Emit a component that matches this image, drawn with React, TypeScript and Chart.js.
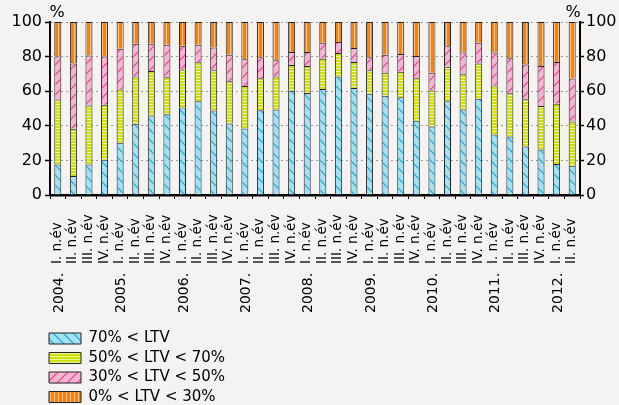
import React, { useEffect, useRef } from 'react';
import { Chart, registerables } from 'chart.js';

Chart.register(...registerables);

const FONT = 'DejaVu Sans';

const quarterLabels = [
  'I. n.év', 'II. n.év', 'III. n.év', 'IV. n.év',
  'I. n.év', 'II. n.év', 'III. n.év', 'IV. n.év',
  'I. n.év', 'II. n.év', 'III. n.év', 'IV. n.év',
  'I. n.év', 'II. n.év', 'III. n.év', 'IV. n.év',
  'I. n.év', 'II. n.év', 'III. n.év', 'IV. n.év',
  'I. n.év', 'II. n.év', 'III. n.év', 'IV. n.év',
  'I. n.év', 'II. n.év', 'III. n.év', 'IV. n.év',
  'I. n.év', 'II. n.év', 'III. n.év', 'IV. n.év',
  'I. n.év', 'II. n.év',
];

const yearLabels = [
  '2004.', '', '', '',
  '2005.', '', '', '',
  '2006.', '', '', '',
  '2007.', '', '', '',
  '2008.', '', '', '',
  '2009.', '', '', '',
  '2010.', '', '', '',
  '2011.', '', '', '',
  '2012.', '',
];

const seriesNames = ['70% < LTV', '50% < LTV < 70%', '30% < LTV < 50%', '0% < LTV < 30%'];

const ltvAbove70 = [
  17.7, 11.0, 17.7, 20.4, 30.2, 41.2, 46.0, 46.7, 50.6, 54.2, 48.8, 41.3,
  38.5, 49.0, 49.4, 60.2, 59.0, 61.3, 68.5, 61.9, 58.5, 57.3, 56.5, 42.9,
  39.6, 54.2, 49.4, 55.6, 35.0, 33.8, 28.1, 26.3, 17.9, 16.9,
];
const ltv50to70 = [
  37.5, 27.3, 34.0, 31.7, 30.8, 27.3, 25.7, 21.3, 21.9, 22.5, 23.3, 24.5,
  24.5, 18.5, 19.1, 15.0, 15.6, 17.4, 13.6, 15.0, 13.6, 13.3, 14.7, 24.6,
  20.8, 20.0, 20.4, 20.4, 28.3, 25.0, 27.3, 25.2, 34.8, 25.6,
];
const ltv30to50 = [
  24.8, 37.7, 28.9, 27.9, 23.6, 19.0, 15.8, 18.9, 13.7, 10.2, 13.1, 15.2,
  15.5, 12.1, 9.4, 7.5, 8.1, 9.3, 6.4, 8.1, 7.5, 10.4, 10.3, 12.9,
  10.2, 11.8, 12.5, 12.0, 19.0, 20.2, 20.0, 23.1, 24.2, 24.8,
];
const ltv0to30 = [
  20.0, 24.0, 19.4, 20.0, 15.4, 12.5, 12.5, 13.1, 13.8, 13.1, 14.8, 19.0,
  21.5, 20.4, 22.1, 17.3, 17.3, 12.0, 11.5, 15.0, 20.4, 19.0, 18.5, 19.6,
  29.4, 14.0, 17.7, 12.0, 17.7, 21.0, 24.6, 25.4, 23.1, 32.7,
];

const Y_MIN = 0;
const Y_MAX = 100;
const Y_STEP = 20;

function makePattern(w: number, h: number, draw: (g: CanvasRenderingContext2D) => void): CanvasPattern | string {
  const c = document.createElement('canvas');
  c.width = w;
  c.height = h;
  const g = c.getContext('2d');
  if (!g) return '#ccc';
  draw(g);
  return g.createPattern(c, 'repeat') || '#ccc';
}

function bluePattern() {
  return makePattern(10, 10, (g) => {
    g.fillStyle = '#a3e1f3';
    g.fillRect(0, 0, 10, 10);
    g.strokeStyle = '#1aa3d6';
    g.lineWidth = 1.2;
    g.beginPath();
    g.moveTo(-1, -1); g.lineTo(11, 11);
    g.moveTo(-1, 9); g.lineTo(1, 11);
    g.moveTo(9, -1); g.lineTo(11, 1);
    g.stroke();
  });
}
function greenPattern() {
  return makePattern(4, 3, (g) => {
    g.fillStyle = '#cfe000';
    g.fillRect(0, 0, 4, 3);
    g.fillStyle = '#eef5a0';
    g.fillRect(0, 2, 4, 1);
  });
}
function pinkPattern() {
  return makePattern(10, 10, (g) => {
    g.fillStyle = '#f7b4d3';
    g.fillRect(0, 0, 10, 10);
    g.strokeStyle = '#e83f8e';
    g.lineWidth = 1.2;
    g.beginPath();
    g.moveTo(-1, 11); g.lineTo(11, -1);
    g.moveTo(-1, 1); g.lineTo(1, -1);
    g.moveTo(9, 11); g.lineTo(11, 9);
    g.stroke();
  });
}
function orangePattern() {
  return makePattern(4, 4, (g) => {
    g.fillStyle = '#ff8000';
    g.fillRect(0, 0, 4, 4);
    g.fillStyle = '#ffc58a';
    g.fillRect(2, 0, 1, 4);
  });
}

const backgroundPlugin = {
  id: 'bgFill',
  beforeDraw(chart: any) {
    const { ctx, width, height } = chart;
    ctx.save();
    ctx.fillStyle = '#f4f3f1';
    ctx.fillRect(0, 0, width, height);
    ctx.restore();
  },
};

const axisTextPlugin = {
  id: 'axisText',
  afterDraw(chart: any) {
    const { ctx, chartArea } = chart;
    const xs = chart.scales.x;
    ctx.save();
    ctx.fillStyle = '#000';
    ctx.textBaseline = 'alphabetic';
    ctx.textAlign = 'left';
    quarterLabels.forEach((q, i) => {
      const x = xs.getPixelForValue(i);
      ctx.font = `13.5px "${FONT}"`;
      ctx.save();
      ctx.translate(x + 3, xs.top + 69);
      ctx.rotate(-Math.PI / 2);
      ctx.fillText(q, 0, 0);
      ctx.restore();
      const yl = yearLabels[i];
      if (yl) {
        ctx.font = `14px "${FONT}"`;
        ctx.save();
        ctx.translate(x + 5, xs.top + 118);
        ctx.rotate(-Math.PI / 2);
        ctx.fillText(yl, 0, 0);
        ctx.restore();
      }
    });
    ctx.font = `16px "${FONT}"`;
    ctx.textAlign = 'center';
    ctx.fillText('%', chartArea.left + 7, 17);
    ctx.fillText('%', chartArea.right - 7, 17);
    ctx.restore();
  },
};

const legendLayoutPlugin = {
  id: 'legendLayout',
  beforeLayout(chart: any) {
    const lg = chart.legend;
    if (lg && !lg.__patched) {
      lg.__patched = true;
      const origFit = lg.fit;
      lg.fit = function () {
        const mw = this.maxWidth;
        this.maxWidth = 10;
        origFit.call(this);
        this.maxWidth = mw;
        this.height = 80;
      };
    }
  },
  afterLayout(chart: any) {
    const lg = chart.legend;
    if (lg) {
      lg.left = 44.5;
      lg.right = 270;
      lg.width = lg.right - lg.left;
      lg.top = 326.5;
      lg.bottom = 405;
      lg.height = lg.bottom - lg.top;
    }
  },
};

export default function App() {
  const ref = useRef<HTMLCanvasElement>(null);

  useEffect(() => {
    document.body.style.margin = '0';
    const canvas = ref.current;
    if (!canvas) return;
    Chart.defaults.font.family = FONT;

    const yTickOpts = {
      stepSize: Y_STEP,
      color: '#000',
      font: { family: FONT, size: 16 },
    };

    const chart = new Chart(canvas, {
      type: 'bar',
      data: {
        labels: quarterLabels,
        datasets: [
          { label: seriesNames[0], data: ltvAbove70, backgroundColor: bluePattern() as any },
          { label: seriesNames[1], data: ltv50to70, backgroundColor: greenPattern() as any },
          { label: seriesNames[2], data: ltv30to50, backgroundColor: pinkPattern() as any },
          { label: seriesNames[3], data: ltv0to30, backgroundColor: orangePattern() as any },
        ].map((d) => ({
          ...d,
          borderColor: '#222',
          borderWidth: 1,
          barPercentage: 0.45,
          categoryPercentage: 1,
        })),
      },
      options: {
        responsive: false,
        animation: false,
        devicePixelRatio: 1,
        layout: { padding: { left: 12, right: 0, top: 22, bottom: 0 } },
        plugins: {
          legend: {
            position: 'bottom',
            align: 'start',
            labels: {
              color: '#000',
              font: { family: FONT, size: 15 },
              boxWidth: 32,
              boxHeight: 11,
              padding: 4.5,
            },
          },
          tooltip: { enabled: false },
        },
        scales: {
          x: {
            stacked: true,
            offset: true,
            grid: {
              display: true,
              offset: true,
              drawOnChartArea: false,
              drawTicks: true,
              tickLength: 4,
              tickColor: '#000',
              tickWidth: 1,
            },
            border: { display: true, color: '#000', width: 2.5 },
            ticks: { display: false },
            afterFit: (s: any) => { s.height = 130; },
          },
          y: {
            stacked: true,
            position: 'left',
            min: Y_MIN,
            max: Y_MAX,
            ticks: { ...yTickOpts, padding: 3 },
            grid: {
              color: '#9a9a9a',
              lineWidth: 1,
              tickColor: '#000',
              tickLength: 5,
              tickWidth: 1.5,
            },
            border: { display: true, color: '#000', width: 2, dash: [2, 3] },
            afterFit: (s: any) => { s.width = 38; },
          },
          y2: {
            position: 'right',
            min: Y_MIN,
            max: Y_MAX,
            ticks: { ...yTickOpts, padding: 2 },
            grid: {
              drawOnChartArea: false,
              tickColor: '#000',
              tickLength: 4,
              tickWidth: 1.5,
            },
            border: { display: true, color: '#000', width: 2 },
            afterFit: (s: any) => { s.width = 39; },
          },
        },
      } as any,
      plugins: [backgroundPlugin, axisTextPlugin, legendLayoutPlugin],
    });

    return () => chart.destroy();
  }, []);

  return (
    <div style={{ position: 'absolute', left: 0, top: 0, width: 619, height: 405 }}>
      <canvas ref={ref} width={619} height={405} style={{ display: 'block', width: 619, height: 405 }} />
    </div>
  );
}
